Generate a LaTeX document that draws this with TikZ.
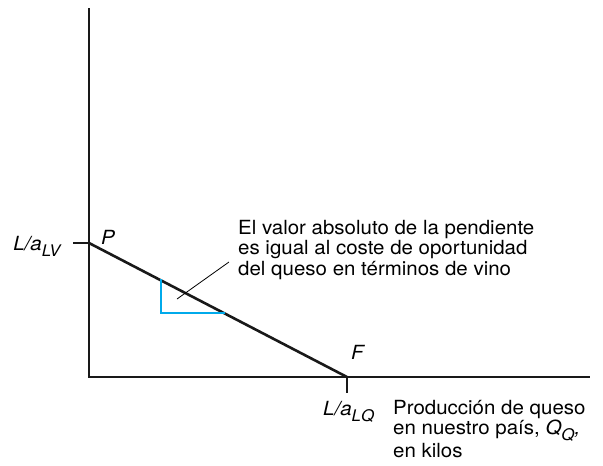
\documentclass[tikz,border=0pt]{standalone}
\usepackage{fontspec}
\setmainfont{TeX Gyre Heros}[FakeStretch=1.05]
\usetikzlibrary{calc, positioning}
\definecolor{slopecyan}{RGB}{0,170,235}
\newcommand{\sublow}[1]{\raisebox{-6pt}{\fontsize{16}{16}\selectfont\textit{#1}}}

\begin{document}
\begin{tikzpicture}[
    x=1pt, y=-1pt,
    % Styles
    axis/.style={ line width=2.6pt, draw=black!90 },
    frontier/.style={ line width=2.6pt, draw=black!90 },
    tick/.style={ line width=1.2pt, draw=black!90 },
    slope/.style={ line width=2.2pt, draw=slopecyan, line cap=rect },
    leader/.style={ line width=0.8pt, draw=black },
    label/.style={ font=\fontsize{19.5}{20.3}\selectfont, inner sep=0pt }, ]

  \useasboundingbox (0,0) rectangle (603,466);

  % 1) Axes
  \coordinate (O) at (89,377);
  \coordinate (Ytop) at (89,8);
  \coordinate (Xend) at (590,377);
  \draw[axis] (Ytop) -- (O) -- (Xend);

  % 2) Intercepts and frontier
  \coordinate (P) at (89,243);
  \coordinate (F) at (347,377);
  \coordinate (Ptick) at (73,243);
  \coordinate (Ftick) at (347,393);
  \draw[tick] (Ptick) -- (P);
  \draw[tick] (F) -- (Ftick);
  \draw[frontier] (P) -- (F);

  % 3) Slope triangle
  \coordinate (S1) at ($(P)!0.279!(F)$);
  \coordinate (S2) at (S1 |- 0,313);
  \coordinate (S3) at ($(P)!0.522!(F)$);
  \draw[slope] (S1) -- (S2) -- (S3 |- S2);

  % 4) Labels at the intercepts
  \node[label, anchor=base east] (lv) at (62,250) {\textit{L/a}\sublow{LV}};
  \node[label, anchor=base west] (pl) at (101,244) {\textit{P}};
  \node[label, anchor=base west] (fl) at (351,359) {\textit{F}};
  \node[label, anchor=base west] (lq) at (323,415) {\textit{L/a}\sublow{LQ}};

  % 5) Note and leader
  \node[label, align=left, anchor=base west] (note) at (238,275)
    {El valor absoluto de la pendiente\\
     es igual al coste de oportunidad\\
     del queso en términos de vino};
  \coordinate (N) at (229,262);
  \coordinate (T) at (177,299);
  \draw[leader] (N) -- (T);

  % 6) Axis title
  \node[label, align=left, anchor=base west] (xt) at (393,457)
    {Producción de queso\\
     en nuestro país, \textit{Q}\sublow{Q}\textit{,}\\
     en kilos};
\end{tikzpicture}
\end{document}
